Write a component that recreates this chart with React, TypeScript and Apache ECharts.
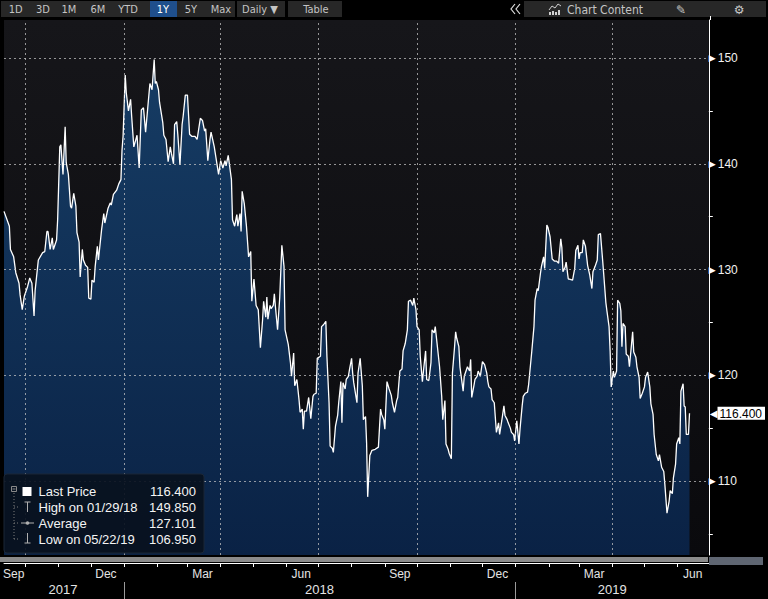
import React, { useEffect, useRef } from 'react';
import * as echarts from 'echarts';

// ---------------- data ----------------
const dates: string[] = [
  '2017-09-11','2017-09-16','2017-09-17','2017-09-20','2017-09-22','2017-09-25','2017-09-26','2017-09-28','2017-09-30',
  '2017-10-03','2017-10-05','2017-10-07','2017-10-09','2017-10-10','2017-10-13','2017-10-17','2017-10-19','2017-10-21','2017-10-22','2017-10-24','2017-10-26','2017-10-27','2017-10-30','2017-10-31',
  '2017-11-02','2017-11-03','2017-11-05','2017-11-07','2017-11-08','2017-11-10','2017-11-12','2017-11-13','2017-11-15','2017-11-17','2017-11-18','2017-11-20','2017-11-21','2017-11-23','2017-11-24','2017-11-26','2017-11-28','2017-11-29',
  '2017-12-01','2017-12-02','2017-12-04','2017-12-05','2017-12-07','2017-12-08','2017-12-11','2017-12-13','2017-12-14','2017-12-17','2017-12-19','2017-12-20','2017-12-22','2017-12-25','2017-12-27','2017-12-29','2017-12-30','2017-12-31',
  '2018-01-02','2018-01-03','2018-01-05','2018-01-07','2018-01-08','2018-01-10','2018-01-13','2018-01-15','2018-01-17','2018-01-19','2018-01-21','2018-01-23','2018-01-25','2018-01-27','2018-01-29','2018-01-30','2018-01-31',
  '2018-02-02','2018-02-03','2018-02-06','2018-02-07','2018-02-09','2018-02-11','2018-02-13','2018-02-14','2018-02-16','2018-02-17','2018-02-19','2018-02-20','2018-02-22','2018-02-24','2018-02-25','2018-02-27',
  '2018-03-01','2018-03-03','2018-03-05','2018-03-08','2018-03-10','2018-03-13','2018-03-15','2018-03-17','2018-03-18','2018-03-20','2018-03-22','2018-03-23','2018-03-26','2018-03-28','2018-03-30',
  '2018-04-01','2018-04-03','2018-04-05','2018-04-06','2018-04-08','2018-04-11','2018-04-12','2018-04-14','2018-04-16','2018-04-17','2018-04-19','2018-04-20','2018-04-21','2018-04-23','2018-04-25','2018-04-27','2018-04-29','2018-04-30',
  '2018-05-02','2018-05-04','2018-05-06','2018-05-08','2018-05-10','2018-05-11','2018-05-13','2018-05-14','2018-05-15','2018-05-17','2018-05-18','2018-05-20','2018-05-21','2018-05-22','2018-05-24','2018-05-26','2018-05-28','2018-05-30','2018-05-31',
  '2018-06-03','2018-06-05','2018-06-06','2018-06-08','2018-06-09','2018-06-11','2018-06-13','2018-06-14','2018-06-16','2018-06-17','2018-06-18','2018-06-20','2018-06-22','2018-06-24','2018-06-26','2018-06-27','2018-06-29','2018-06-30',
  '2018-07-03','2018-07-04','2018-07-06','2018-07-08','2018-07-09','2018-07-11','2018-07-12','2018-07-14','2018-07-15','2018-07-17','2018-07-19','2018-07-20','2018-07-22','2018-07-23','2018-07-24','2018-07-26','2018-07-27','2018-07-29','2018-07-30',
  '2018-08-01','2018-08-02','2018-08-03','2018-08-06','2018-08-07','2018-08-09','2018-08-11','2018-08-12','2018-08-14','2018-08-15','2018-08-16','2018-08-18','2018-08-20','2018-08-23','2018-08-26','2018-08-28','2018-08-29','2018-08-31',
  '2018-09-01','2018-09-03','2018-09-05','2018-09-07','2018-09-08','2018-09-10','2018-09-12','2018-09-13','2018-09-15','2018-09-17','2018-09-18','2018-09-20','2018-09-22','2018-09-23','2018-09-25','2018-09-27','2018-09-28','2018-09-30',
  '2018-10-01','2018-10-03','2018-10-04','2018-10-06','2018-10-07','2018-10-09','2018-10-10','2018-10-12','2018-10-14','2018-10-15','2018-10-17','2018-10-18','2018-10-20','2018-10-22','2018-10-24','2018-10-25','2018-10-27','2018-10-28','2018-10-30','2018-10-31',
  '2018-11-02','2018-11-03','2018-11-05','2018-11-06','2018-11-07','2018-11-09','2018-11-10','2018-11-13','2018-11-14','2018-11-16','2018-11-17','2018-11-19','2018-11-20','2018-11-21','2018-11-23','2018-11-24','2018-11-26','2018-11-27','2018-11-29',
  '2018-12-01','2018-12-03','2018-12-05','2018-12-06','2018-12-07','2018-12-09','2018-12-10','2018-12-12','2018-12-13','2018-12-14','2018-12-16','2018-12-17','2018-12-19','2018-12-21','2018-12-22','2018-12-24','2018-12-25','2018-12-27','2018-12-28','2018-12-30','2018-12-31',
  '2019-01-02','2019-01-04','2019-01-05','2019-01-07','2019-01-08','2019-01-10','2019-01-12','2019-01-13','2019-01-16','2019-01-18','2019-01-19','2019-01-21','2019-01-22','2019-01-24','2019-01-25','2019-01-27','2019-01-28','2019-01-30','2019-01-31',
  '2019-02-02','2019-02-04','2019-02-06','2019-02-08','2019-02-10','2019-02-12','2019-02-13','2019-02-14','2019-02-16','2019-02-17','2019-02-19','2019-02-20','2019-02-23','2019-02-25','2019-02-26','2019-02-28',
  '2019-03-01','2019-03-02','2019-03-04','2019-03-05','2019-03-07','2019-03-09','2019-03-11','2019-03-13','2019-03-14','2019-03-16','2019-03-18','2019-03-19','2019-03-21','2019-03-23','2019-03-24','2019-03-26','2019-03-27','2019-03-29','2019-03-30','2019-03-31',
  '2019-04-02','2019-04-03','2019-04-05','2019-04-06','2019-04-08','2019-04-09','2019-04-10','2019-04-11','2019-04-13','2019-04-14','2019-04-16','2019-04-17','2019-04-19','2019-04-20','2019-04-21','2019-04-23','2019-04-24','2019-04-26','2019-04-27','2019-04-29',
  '2019-05-01','2019-05-02','2019-05-04','2019-05-06','2019-05-07','2019-05-09','2019-05-10','2019-05-12','2019-05-14','2019-05-15','2019-05-17','2019-05-19','2019-05-20','2019-05-22','2019-05-24','2019-05-25','2019-05-27','2019-05-28','2019-05-30','2019-05-31',
  '2019-06-02','2019-06-03','2019-06-04','2019-06-06','2019-06-07','2019-06-08','2019-06-09','2019-06-11','2019-06-12',
];

const prices: number[] = [
  135.5,134.1,131.9,131.2,129.7,128.7,127.6,126.2,127.5,
  128.4,129.2,128.7,125.6,128,130.9,131.6,131.7,133.6,133.6,131.9,133,131.9,132.8,134.7,
  141.6,141.8,139,143.5,140.1,139,136,135.8,137.2,136,133.5,132.6,129.3,131.9,130.9,130.4,130.2,127.3,
  127.2,129,128.8,130.3,132.2,130.9,133.8,135.3,134.4,135.8,136.3,136.1,137.1,137.5,138.1,138.5,141.3,142.6,
  148.4,146.7,145,146.1,144.5,141.6,142.7,139.6,145.1,145.3,143,145.3,147.6,147,149.85,147.6,147.8,
  147,145.8,143.9,142.7,142.3,140.2,141.6,141,140,143.7,144,142.8,139.9,143.7,144.5,146.5,
  146.5,142.8,142.6,142.6,142.3,144.3,144.1,143.1,143.3,140.3,142.3,143,141.6,140.3,139,
  140.3,139.6,140.3,139.8,140.8,138.5,134.7,134.1,135.2,134.1,135.3,133.6,137.4,136.2,134.1,131.2,131.7,127,
  129.1,126.6,126.2,122.6,125.2,127,125.5,127.4,125.3,126.6,126.3,126.6,127.7,126.5,124.3,127.3,132.3,130.3,124.3,
  122.9,121.2,119.9,122.1,119,119.6,117.7,116.5,116.8,114.9,116.6,116.6,117.9,115.9,118,118.2,118.3,121.6,
  121.8,124.6,124.8,125.1,121.8,117.4,113.3,113.1,112.7,115.2,116.2,117.4,119.4,115.5,119.3,118.7,119.6,119.9,120.5,
  121.6,120.2,119.3,117.4,120.2,121.6,119,115.8,116.1,113.6,108.5,112.4,112.9,113,113.2,116.8,116.3,115.8,
  114.9,119.4,118.7,118.1,117.4,116.5,117.6,117.9,120.4,120.6,122.3,123,124.3,127,127.1,126.6,127.3,126.2,
  124.6,124.3,121.8,119.4,120.4,122.3,119.6,119.5,121.2,124.3,124,124.6,122.7,120.8,118,115.8,117.6,113.5,113,112.6,
  112.1,120.2,122.7,124.1,123.5,122.7,120.8,118.5,119.9,120.5,120.8,120.4,121.5,117.9,119,119.6,119.9,120.4,119.9,
  121.3,121,120.2,119.4,118.9,118.7,117.7,117.4,116,114.6,115.5,114.4,115.7,117.1,116.2,115.8,115.5,115,114.6,114.4,113.8,
  115.7,113.5,114.9,117.1,118,118.3,118.4,119.1,122.3,124.6,127.1,128.2,128,129.6,130.3,131.2,130.1,134.2,134,
  133.1,131,130.8,130.8,130.6,132.9,132.1,129.8,130.2,130.7,129.1,129.1,129,130.1,131.8,132.3,
  131,131.6,131.6,132.8,132.2,130.4,129.5,128.2,129.8,130.3,130.9,133.3,133.4,130.9,129.6,126.9,126.1,124.6,122.3,118.9,
  120.4,119.8,120.4,127.1,126.8,126.1,122.7,124.9,124.6,122,121.8,120.8,123,124.1,122.2,121.7,120.8,119.8,117.8,118.3,
  118.9,119.8,120.3,118.9,117.3,116.3,114.4,112.5,111.9,112.5,111.3,110.9,109.7,106.95,108.1,109.1,108.8,110.3,111.6,113.5,
  114.1,113.5,118.5,119.2,117.1,117,114.4,114.4,116.4,
];

const xStart = '2017-09-11';
const xEnd = '2019-06-30';
const yMin = 103;
const yMax = 153.6;

const yLabelValues = [110, 120, 130, 140, 150];
const yMinorTickValues = [105, 115, 125, 135, 145];
const lastPrice = 116.4;

const monthStarts = [
  '2017-10-01','2017-11-01','2017-12-01','2018-01-01','2018-02-01','2018-03-01','2018-04-01','2018-05-01',
  '2018-06-01','2018-07-01','2018-08-01','2018-09-01','2018-10-01','2018-11-01','2018-12-01','2019-01-01',
  '2019-02-01','2019-03-01','2019-04-01','2019-05-01','2019-06-01',
];
const quarterStarts = ['2017-10-01','2018-01-01','2018-04-01','2018-07-01','2018-10-01','2019-01-01','2019-04-01'];
const monthLabelDates = ['2017-09-20','2017-12-15','2018-03-15','2018-06-15','2018-09-15','2018-12-15','2019-03-15','2019-06-15'];
const monthLabelTexts = ['Sep','Dec','Mar','Jun','Sep','Dec','Mar','Jun'];
const yearStarts = ['2018-01-01','2019-01-01'];
const yearLabelDates = ['2017-11-05','2018-07-02','2019-04-01'];
const yearLabelTexts = ['2017','2018','2019'];

const legendLabels = ['Last Price', 'High on 01/29/18', 'Average', 'Low on 05/22/19'];
const legendValues = ['116.400', '149.850', '127.101', '106.950'];

const rangeButtons = ['1D','3D','1M','6M','YTD','1Y','5Y','Max'];
const activeRange = '1Y';

// ---------------- helpers ----------------
const ts = (s: string) => {
  const [y, m, d] = s.split('-').map(Number);
  return Date.UTC(y, m - 1, d);
};

const FONT = "'Liberation Sans', Arial, sans-serif";
const NARROW = "'Liberation Sans Narrow', 'DejaVu Sans Condensed', 'Liberation Sans', sans-serif";

export default function App() {
  const ref = useRef<HTMLDivElement>(null);

  useEffect(() => {
    document.body.style.margin = '0';
    document.body.style.background = '#000';
    if (!ref.current) return;
    const chart = echarts.init(ref.current, undefined, { renderer: 'svg' });

    const data = dates.map((d, i) => [ts(d), prices[i]]);
    const monthMap = new Map<number, string>(monthLabelDates.map((d, i) => [ts(d), monthLabelTexts[i]]));
    const yearMap = new Map<number, string>(yearLabelDates.map((d, i) => [ts(d), yearLabelTexts[i]]));

    const gridLineStyle = { color: 'rgba(200,200,200,0.72)', type: [2, 3] as number[], width: 1 };

    // toolbar graphics
    const btnCenters = [15.7, 43, 69, 98, 128, 163, 191, 221];
    const toolbar: any[] = [
      { type: 'rect', shape: { x: 1, y: 1, width: 234, height: 16 }, style: { fill: '#272727' } },
      { type: 'rect', shape: { x: 150, y: 1, width: 27, height: 16 }, style: { fill: '#1f4f8c' } },
      { type: 'rect', shape: { x: 237, y: 1, width: 48, height: 16 }, style: { fill: '#272727' } },
      { type: 'rect', shape: { x: 288, y: 1, width: 54, height: 16 }, style: { fill: '#272727' } },
      { type: 'rect', shape: { x: 524, y: 1, width: 242, height: 16 }, style: { fill: '#272727' } },
      ...rangeButtons.map((b, i) => ({
        type: 'text', x: btnCenters[i], y: 9.5,
        style: { text: b, fill: b === activeRange ? '#ffffff' : '#c4c4c4', font: `11px ${NARROW}`, align: 'center', verticalAlign: 'middle' },
      })),
      { type: 'text', x: 260, y: 9.5, style: { text: 'Daily ▼', fill: '#c4c4c4', font: `11px ${NARROW}`, align: 'center', verticalAlign: 'middle' } },
      { type: 'text', x: 316, y: 9.5, style: { text: 'Table', fill: '#c4c4c4', font: `11px ${NARROW}`, align: 'center', verticalAlign: 'middle' } },
      { type: 'polyline', shape: { points: [[515, 4], [511, 9], [515, 14]] }, style: { stroke: '#dddddd', lineWidth: 1.2, fill: null } },
      { type: 'polyline', shape: { points: [[520, 4], [516, 9], [520, 14]] }, style: { stroke: '#dddddd', lineWidth: 1.2, fill: null } },
      { type: 'polyline', shape: { points: [[549, 10], [552, 6], [555, 8], [558, 4], [561, 6]] }, style: { stroke: '#d0d0d0', lineWidth: 1, fill: null } },
      { type: 'rect', shape: { x: 549, y: 12, width: 2, height: 3 }, style: { fill: '#d0d0d0' } },
      { type: 'rect', shape: { x: 552, y: 11, width: 2, height: 4 }, style: { fill: '#d0d0d0' } },
      { type: 'rect', shape: { x: 555, y: 12, width: 2, height: 3 }, style: { fill: '#d0d0d0' } },
      { type: 'rect', shape: { x: 558, y: 10, width: 2, height: 5 }, style: { fill: '#d0d0d0' } },
      { type: 'text', x: 567, y: 9.5, style: { text: 'Chart Content', fill: '#c4c4c4', font: `12px ${NARROW}`, align: 'left', verticalAlign: 'middle' } },
      { type: 'text', x: 681, y: 9.5, style: { text: '✎', fill: '#c8c8c8', font: "12px 'DejaVu Sans'", align: 'center', verticalAlign: 'middle' } },
      { type: 'text', x: 739, y: 9.5, style: { text: '⚙', fill: '#c8c8c8', font: "12px 'DejaVu Sans'", align: 'center', verticalAlign: 'middle' } },
      { type: 'line', shape: { x1: 710.5, y1: 16, x2: 710.5, y2: 20 }, style: { stroke: '#ffffff', lineWidth: 1 } },
    ];

    // legend box graphics
    const rowY = [491.5, 507, 523, 539];
    const legend: any[] = [
      { type: 'rect', z: 100, shape: { x: 4, y: 474, width: 200, height: 79, r: 3 }, style: { fill: 'rgba(9,17,30,0.92)', stroke: '#1b2737', lineWidth: 1 } },
      { type: 'rect', z: 101, shape: { x: 11.5, y: 486.5, width: 5, height: 5 }, style: { fill: null, stroke: '#8a8a8a', lineWidth: 1 } },
      { type: 'line', z: 101, shape: { x1: 12.5, y1: 489, x2: 15.5, y2: 489 }, style: { stroke: '#8a8a8a', lineWidth: 1 } },
      { type: 'line', z: 101, shape: { x1: 14, y1: 493, x2: 14, y2: 539 }, style: { stroke: '#7a7a7a', lineWidth: 1, lineDash: [1, 2] } },
      ...[507, 523, 539].map((y) => ({ type: 'line', z: 101, shape: { x1: 14, y1: y, x2: 20, y2: y }, style: { stroke: '#7a7a7a', lineWidth: 1, lineDash: [1, 2] } })),
      { type: 'rect', z: 101, shape: { x: 22.5, y: 487, width: 9, height: 9 }, style: { fill: '#ffffff' } },
      { type: 'line', z: 101, shape: { x1: 24.5, y1: 502, x2: 30.5, y2: 502 }, style: { stroke: '#b0b0b0', lineWidth: 1 } },
      { type: 'line', z: 101, shape: { x1: 27.5, y1: 502, x2: 27.5, y2: 512 }, style: { stroke: '#b0b0b0', lineWidth: 1 } },
      { type: 'line', z: 101, shape: { x1: 21, y1: 523, x2: 34, y2: 523 }, style: { stroke: '#b0b0b0', lineWidth: 1 } },
      { type: 'circle', z: 101, shape: { cx: 27.5, cy: 523, r: 1.8 }, style: { fill: '#b0b0b0' } },
      { type: 'line', z: 101, shape: { x1: 27.5, y1: 533, x2: 27.5, y2: 543 }, style: { stroke: '#b0b0b0', lineWidth: 1 } },
      { type: 'line', z: 101, shape: { x1: 24.5, y1: 543, x2: 30.5, y2: 543 }, style: { stroke: '#b0b0b0', lineWidth: 1 } },
      ...legendLabels.map((t, i) => ({
        type: 'text', z: 101, x: 38.5, y: rowY[i],
        style: { text: t, fill: '#f4f4f4', font: `13px ${FONT}`, align: 'left', verticalAlign: 'middle' },
      })),
      ...legendValues.map((t, i) => ({
        type: 'text', z: 101, x: 196, y: rowY[i],
        style: { text: t, fill: '#f4f4f4', font: `13px ${FONT}`, align: 'right', verticalAlign: 'middle' },
      })),
    ];

    const bottomBar: any[] = [
      { type: 'rect', z: 50, shape: { x: 0, y: 557, width: 708, height: 5 }, style: { fill: '#8b8b8b' } },
      { type: 'rect', z: 50, shape: { x: 709, y: 557, width: 54, height: 8 }, style: { fill: '#5f6672' } },
    ];

    const option: any = {
      animation: false,
      backgroundColor: '#000000',
      textStyle: { fontFamily: FONT },
      grid: {
        left: 0, right: 58, top: 20, bottom: 44, show: true, borderWidth: 0,
        backgroundColor: new echarts.graphic.LinearGradient(0, 0, 0, 1, [
          { offset: 0, color: '#16161a' },
          { offset: 1, color: '#0a0a0d' },
        ]),
      },
      xAxis: [
        {
          type: 'value', min: ts(xStart), max: ts(xEnd), position: 'bottom', offset: 8,
          axisLine: { show: true, onZero: false, lineStyle: { color: '#ffffff', width: 1 } },
          axisTick: { show: true, customValues: monthStarts.map(ts), length: 4, lineStyle: { color: '#ffffff' } },
          axisLabel: {
            customValues: monthLabelDates.map(ts), margin: 5, color: '#e4e4e4', fontSize: 12, fontFamily: FONT,
            formatter: (v: number) => monthMap.get(v) ?? '',
          },
          splitLine: { show: false },
        },
        {
          type: 'value', min: ts(xStart), max: ts(xEnd), position: 'bottom', offset: 44,
          axisLine: { show: false, onZero: false },
          axisTick: { show: true, inside: true, customValues: yearStarts.map(ts), length: 17, lineStyle: { color: '#9a9a9a' } },
          axisLabel: {
            inside: true, customValues: yearLabelDates.map(ts), margin: 3, color: '#e4e4e4', fontSize: 13, fontFamily: FONT,
            formatter: (v: number) => yearMap.get(v) ?? '',
          },
          splitLine: { show: false },
        },
      ],
      yAxis: [
        {
          type: 'value', position: 'right', min: yMin, max: yMax,
          axisLine: { show: true, onZero: false, lineStyle: { color: '#ffffff', width: 1 } },
          axisTick: { show: true, customValues: yMinorTickValues, length: 4, lineStyle: { color: '#ffffff' } },
          axisLabel: {
            customValues: yLabelValues, margin: 0,
            formatter: (v: number) => `{a|▶}{b|${v}}`,
            rich: {
              a: { color: '#ffffff', fontSize: 9, fontFamily: 'DejaVu Sans' },
              b: { color: '#f2f2f2', fontSize: 12, fontFamily: FONT, padding: [0, 0, 0, 2] },
            },
          },
          splitLine: { show: false },
        },
        {
          type: 'value', position: 'right', min: yMin, max: yMax,
          axisLine: { show: false, onZero: false },
          axisTick: { show: false },
          axisLabel: {
            customValues: [lastPrice], margin: 1,
            formatter: (v: number) => `{a|◀}{b|${v.toFixed(3)}}`,
            rich: {
              a: { color: '#ffffff', fontSize: 10, fontFamily: 'DejaVu Sans' },
              b: { color: '#000000', backgroundColor: '#ffffff', fontSize: 12, fontFamily: FONT, padding: [1, 3, 0, 2], lineHeight: 13 },
            },
          },
          splitLine: { show: false },
        },
      ],
      series: [
        {
          type: 'line', xAxisIndex: 0, yAxisIndex: 0, data, symbol: 'none', showSymbol: false,
          lineStyle: { color: '#ffffff', width: 1.3 },
          areaStyle: {
            origin: 'start', opacity: 1,
            color: new echarts.graphic.LinearGradient(0, 0, 0, 1, [
              { offset: 0, color: '#163c64' },
              { offset: 1, color: '#0a2245' },
            ]),
          },
          markLine: {
            silent: true, symbol: ['none', 'none'], label: { show: false }, lineStyle: gridLineStyle,
            emphasis: { disabled: true },
            data: [
              ...yLabelValues.map((v) => ({ yAxis: v })),
              ...quarterStarts.map((d) => ({ xAxis: ts(d) })),
            ],
          },
        },
      ],
      graphic: [...toolbar, ...bottomBar, ...legend],
    };

    chart.setOption(option);
    return () => chart.dispose();
  }, []);

  return <div ref={ref} style={{ width: 768, height: 599, background: '#000' }} />;
}
